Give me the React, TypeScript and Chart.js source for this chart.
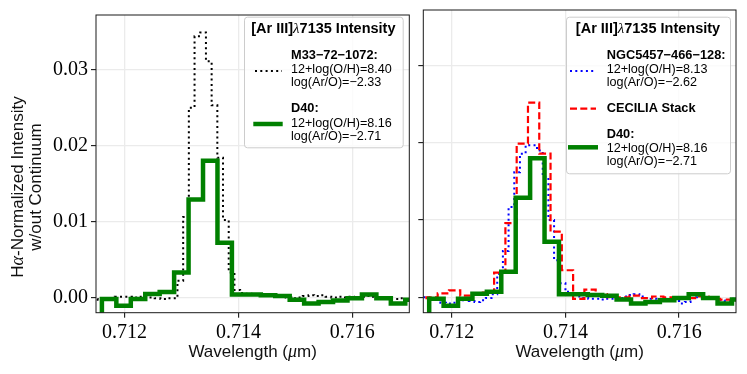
import React, { useEffect, useRef } from "react";
import { Chart, registerables } from "chart.js";

Chart.register(...registerables);

// ---- axes ----
const X_MIN = 0.7115;
const X_MAX = 0.717;
const Y_MIN = -0.002;
const Y_MAX = 0.0372;
const X_TICKS = [0.712, 0.714, 0.716];
const Y_TICKS = [0, 0.01, 0.02, 0.03];

// ---- D40 (green, coarse bins) ----
const d40Start = 0.71135;
const d40Step = 0.0002536;
const d40Values = [
  -0.0024, -0.0002, -0.0011, -0.0002, 0.00045, 0.00072, 0.0033, 0.0129, 0.018, 0.0072,
  0.0004, 0.0004, 0.0003, 0.0002, -0.0003, -0.0008, -0.0006, -0.0004, -0.0001, 0.0004,
  -0.0001, -0.0008, -0.0003,
];

// ---- M33-72-1072 (black dotted) ----
const m33Start = 0.71143;
const m33Step = 0.0001;
const m33Values = [
  -0.0002, -0.0003, -0.0003, -0.0002, 0.0001, 0.0001, 0.0001, 0.0, 0.0001, 0.0001,
  0.0, -0.0001, -0.0002, -0.0001, -0.0001, 0.0022, 0.0106, 0.025, 0.0344, 0.0349,
  0.0311, 0.0253, 0.0184, 0.0102, 0.0033, 0.001, 0.0006, 0.0005, 0.0004, 0.0004,
  0.0003, 0.0003, 0.0002, 0.0001, 0.0, -0.0001, 0.0, 0.0002, 0.0003, 0.0002,
  0.0003, 0.0001, 0.0, 0.0001, 0.0, 0.0001, 0.0, 0.0001, 0.0002, 0.0001,
  0.0, -0.0001, -0.0002, -0.0002, -0.0001, -0.0002,
];

// ---- NGC5457-466-128 (blue dotted) ----
const ngcStart = 0.7115;
const ngcStep = 0.0001;
const ngcValues = [
  0.0, -0.0001, -0.0002, -0.0007, -0.0008, -0.0007, -0.0004, -0.0002, -0.0005, -0.0006,
  -0.0004, -0.0001, 0.0004, 0.003, 0.006, 0.0117, 0.0162, 0.0186, 0.0197, 0.0197,
  0.019, 0.0156, 0.01, 0.0048, 0.0018, 0.0007, 0.0004, 0.0001, -0.0001, -0.0002,
  -0.0002, -0.0003, -0.0002, -0.0002, -0.0001, 0.0001, 0.0003, 0.0004, 0.0001, -0.0001,
  -0.0002, -0.0003, -0.0002, -0.0003, -0.0005, -0.0008, -0.0006, -0.0001, 0.0, -0.0001,
  -0.0001, -0.0002, -0.0004, -0.0005, -0.0002,
];

// ---- CECILIA Stack (red dashed) ----
const cecStart = 0.711356;
const cecStep = 0.0001985;
const cecValues = [
  -0.0001, 0.0, 0.0005, 0.0009, 0.0002, 0.0004, 0.0006, 0.0032, 0.0096, 0.0199,
  0.0252, 0.0186, 0.0085, 0.0035, -0.0002, 0.001, 0.0004, 0.0, 0.0, 0.0002,
  -0.0001, 0.0001, 0.0, -0.0001, -0.0001, 0.0001, -0.0002, -0.0003, -0.0004,
];

function stepPoints(start: number, step: number, values: number[]) {
  const pts = values.map((v, i) => ({ x: start + i * step, y: v }));
  pts.push({ x: start + values.length * step, y: values[values.length - 1] });
  return pts;
}

const SANS = "'Liberation Sans'";
const SERIF = "'Liberation Serif'";
const TITLE_FONT = `bold 14.5px ${SANS}`;
const NAME_FONT = `bold 12.8px ${SANS}`;
const VAL_FONT = `12.6px ${SANS}`;

type Run = { t: string; f: string };

function runsWidth(ctx: CanvasRenderingContext2D, runs: Run[]) {
  let w = 0;
  for (const r of runs) {
    ctx.font = r.f;
    w += ctx.measureText(r.t).width;
  }
  return w;
}
function drawRuns(ctx: CanvasRenderingContext2D, runs: Run[], x: number, y: number, center: boolean) {
  let cx = center ? x - runsWidth(ctx, runs) / 2 : x;
  for (const r of runs) {
    ctx.font = r.f;
    ctx.fillText(r.t, cx, y);
    cx += ctx.measureText(r.t).width;
  }
}

type Handle = { y: number; x0: number; x1: number; color: string; width: number; dash: number[] };
type LegendSpec = {
  box: [number, number, number, number];
  titleY: number;
  textX: number;
  lines: { y: number; text: string; bold: boolean }[];
  handles: Handle[];
};

const titleRuns: Run[] = [
  { t: "[Ar III]", f: TITLE_FONT },
  { t: "λ", f: `italic 15px ${SERIF}` },
  { t: "7135 Intensity", f: TITLE_FONT },
];

const leftLegend: LegendSpec = {
  box: [244, 16.7, 158.7, 130.6],
  titleY: 33.3,
  textX: 291,
  lines: [
    { y: 58.7, text: "M33−72−1072:", bold: true },
    { y: 73.3, text: "12+log(O/H)=8.40", bold: false },
    { y: 86.2, text: "log(Ar/O)=−2.33", bold: false },
    { y: 112, text: "D40:", bold: true },
    { y: 126.7, text: "12+log(O/H)=8.16", bold: false },
    { y: 139.5, text: "log(Ar/O)=−2.71", bold: false },
  ],
  handles: [
    { y: 71, x0: 255, x1: 282, color: "#000000", width: 2, dash: [2, 3.3] },
    { y: 124, x0: 253.3, x1: 282.7, color: "#008000", width: 4.5, dash: [] },
  ],
};

const rightLegend: LegendSpec = {
  box: [566, 16.7, 164, 156.6],
  titleY: 33.3,
  textX: 606.7,
  lines: [
    { y: 58.7, text: "NGC5457−466−128:", bold: true },
    { y: 73.3, text: "12+log(O/H)=8.13", bold: false },
    { y: 86.2, text: "log(Ar/O)=−2.62", bold: false },
    { y: 112, text: "CECILIA Stack", bold: true },
    { y: 137.7, text: "D40:", bold: true },
    { y: 151.7, text: "12+log(O/H)=8.16", bold: false },
    { y: 164.5, text: "log(Ar/O)=−2.71", bold: false },
  ],
  handles: [
    { y: 71, x0: 570, x1: 595, color: "#0000ff", width: 2, dash: [2, 3.3] },
    { y: 108.7, x0: 570, x1: 596, color: "#ff0000", width: 2.2, dash: [7, 3.3] },
    { y: 147.3, x0: 568, x1: 598, color: "#008000", width: 4.5, dash: [] },
  ],
};

function roundRect(ctx: CanvasRenderingContext2D, x: number, y: number, w: number, h: number, r: number) {
  ctx.beginPath();
  ctx.moveTo(x + r, y);
  ctx.lineTo(x + w - r, y);
  ctx.arcTo(x + w, y, x + w, y + r, r);
  ctx.lineTo(x + w, y + h - r);
  ctx.arcTo(x + w, y + h, x + w - r, y + h, r);
  ctx.lineTo(x + r, y + h);
  ctx.arcTo(x, y + h, x, y + h - r, r);
  ctx.lineTo(x, y + r);
  ctx.arcTo(x, y, x + r, y, r);
  ctx.closePath();
}

function overlayPlugin(legend: LegendSpec, offsetX: number, withYTitle: boolean) {
  return {
    id: "overlay" + offsetX,
    afterDraw(chart: any) {
      const ctx: CanvasRenderingContext2D = chart.ctx;
      const a = chart.chartArea;
      ctx.save();
      // frame
      ctx.setLineDash([]);
      ctx.strokeStyle = "#1a1a1a";
      ctx.lineWidth = 1;
      ctx.strokeRect(a.left, a.top, a.right - a.left, a.bottom - a.top);

      ctx.fillStyle = "#111";
      ctx.textBaseline = "alphabetic";
      // x title
      const cx = (a.left + a.right) / 2;
      drawRuns(
        ctx,
        [
          { t: "Wavelength (", f: `17px ${SANS}` },
          { t: "μ", f: `italic 18px ${SERIF}` },
          { t: "m)", f: `17px ${SANS}` },
        ],
        cx,
        357,
        true
      );

      if (withYTitle) {
        ctx.save();
        ctx.translate(23.3, 187);
        ctx.rotate(-Math.PI / 2);
        drawRuns(
          ctx,
          [
            { t: "H", f: `17px ${SANS}` },
            { t: "α", f: `italic 18px ${SERIF}` },
            { t: "-Normalized Intensity", f: `17px ${SANS}` },
          ],
          0,
          0,
          true
        );
        ctx.restore();
        ctx.save();
        ctx.translate(40.5, 187);
        ctx.rotate(-Math.PI / 2);
        drawRuns(ctx, [{ t: "w/out Continuum", f: `17px ${SANS}` }], 0, 0, true);
        ctx.restore();
      }

      // legend
      const [bx, by, bw, bh] = legend.box;
      roundRect(ctx, bx - offsetX + 0.5, by + 0.5, bw, bh, 3);
      ctx.fillStyle = "rgba(255,255,255,0.8)";
      ctx.fill();
      ctx.strokeStyle = "#cccccc";
      ctx.lineWidth = 1;
      ctx.stroke();

      ctx.fillStyle = "#000";
      drawRuns(ctx, titleRuns, bx - offsetX + bw / 2, legend.titleY, true);
      for (const l of legend.lines) {
        ctx.font = l.bold ? NAME_FONT : VAL_FONT;
        ctx.fillText(l.text, legend.textX - offsetX, l.y);
      }
      for (const h of legend.handles) {
        ctx.beginPath();
        ctx.setLineDash(h.dash);
        ctx.lineCap = "butt";
        ctx.strokeStyle = h.color;
        ctx.lineWidth = h.width;
        ctx.moveTo(h.x0 - offsetX, h.y);
        ctx.lineTo(h.x1 - offsetX, h.y);
        ctx.stroke();
      }
      ctx.restore();
    },
  };
}

function makeScales(showYLabels: boolean, yWidth: number) {
  return {
    x: {
      type: "linear" as const,
      min: X_MIN,
      max: X_MAX,
      afterBuildTicks: (s: any) => {
        s.ticks = X_TICKS.map((v) => ({ value: v }));
      },
      afterFit: (s: any) => {
        s.height = 61.3;
      },
      ticks: {
        autoSkip: false,
        maxRotation: 0,
        padding: 3,
        color: "#000",
        font: { family: "Liberation Serif", size: 20 },
        callback: (v: any) => Number(v).toFixed(3),
      },
      grid: { color: "#ebebeb", lineWidth: 1.3, tickColor: "#000", tickLength: 5, tickWidth: 1 },
      border: { display: false },
    },
    y: {
      type: "linear" as const,
      min: Y_MIN,
      max: Y_MAX,
      afterBuildTicks: (s: any) => {
        s.ticks = Y_TICKS.map((v) => ({ value: v }));
      },
      afterFit: (s: any) => {
        s.width = yWidth;
      },
      ticks: {
        display: showYLabels,
        padding: 3,
        color: "#000",
        font: { family: "Liberation Serif", size: 20 },
        callback: (v: any) => Number(v).toFixed(2),
      },
      grid: { color: "#ebebeb", lineWidth: 1.3, tickColor: "#000", tickLength: 5, tickWidth: 1 },
      border: { display: false },
    },
  };
}

function lineDs(label: string, pts: any[], color: string, width: number, dash: number[], order: number) {
  return {
    label,
    data: pts,
    borderColor: color,
    backgroundColor: color,
    borderWidth: width,
    borderDash: dash,
    borderCapStyle: "butt" as const,
    borderJoinStyle: "miter" as const,
    stepped: "before" as const,
    pointRadius: 0,
    fill: false,
    clip: 0,
    order,
  };
}

export default function App() {
  const leftRef = useRef<HTMLCanvasElement>(null);
  const rightRef = useRef<HTMLCanvasElement>(null);

  useEffect(() => {
    const common = {
      responsive: false,
      animation: false as const,
      maintainAspectRatio: false,
      plugins: { legend: { display: false }, tooltip: { enabled: false } },
      events: [] as any[],
    };
    const left = new Chart(leftRef.current!, {
      type: "line",
      data: {
        datasets: [
          lineDs("M33−72−1072", stepPoints(m33Start, m33Step, m33Values), "#000000", 2, [2, 3.3], 1),
          lineDs("D40", stepPoints(d40Start, d40Step, d40Values), "#008000", 4.5, [], 0),
        ],
      },
      options: {
        ...common,
        layout: { padding: { left: 0, right: 4.7, top: 10, bottom: 0 } },
        scales: makeScales(true, 96),
      } as any,
      plugins: [overlayPlugin(leftLegend, 0, true)],
    });
    const right = new Chart(rightRef.current!, {
      type: "line",
      data: {
        datasets: [
          lineDs("NGC5457−466−128", stepPoints(ngcStart, ngcStep, ngcValues), "#0000ff", 2, [2, 3.3], 2),
          lineDs("CECILIA Stack", stepPoints(cecStart, cecStep, cecValues), "#ff0000", 2.2, [7, 3.3], 1),
          lineDs("D40", stepPoints(d40Start, d40Step, d40Values), "#008000", 4.5, [], 0),
        ],
      },
      options: {
        ...common,
        layout: { padding: { left: 0, right: 11, top: 10, bottom: 0 } },
        scales: makeScales(false, 9.3),
      } as any,
      plugins: [overlayPlugin(rightLegend, 414, false)],
    });
    return () => {
      left.destroy();
      right.destroy();
    };
  }, []);

  return (
    <div style={{ position: "fixed", left: 0, top: 0, width: 747, height: 374, background: "#fff" }}>
      <canvas ref={leftRef} width={414} height={374} style={{ position: "absolute", left: 0, top: 0 }} />
      <canvas ref={rightRef} width={333} height={374} style={{ position: "absolute", left: 414, top: 0 }} />
    </div>
  );
}
